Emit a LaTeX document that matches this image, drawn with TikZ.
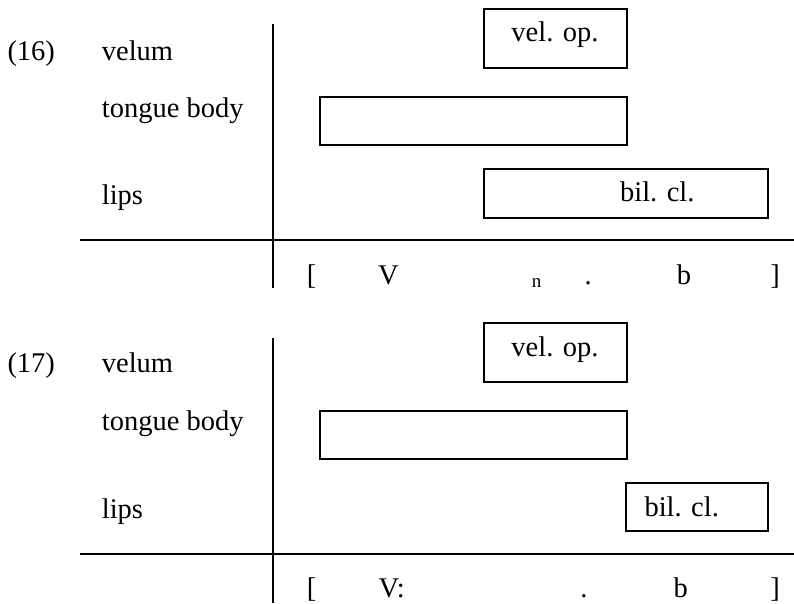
\documentclass[tikz,border=0pt]{standalone}
\usepackage{fontspec}
\setmainfont{Liberation Serif}
\begin{document}
\begin{tikzpicture}[x=1pt,y=-1pt,
  rule/.style={line width=2pt},
  bar/.style={draw, line width=2pt, rectangle, inner sep=0pt, anchor=north west},
  txt/.style={inner sep=0pt, font=\fontsize{28.5}{34}\selectfont},
  lbl/.style={txt, anchor=base west},
  ctr/.style={txt, anchor=base},
  small/.style={inner sep=0pt, anchor=base, font=\fontsize{19}{23}\selectfont}]
\useasboundingbox (0,0) rectangle (794,603);
% ---------- (16) ----------
\coordinate (vA1) at (272.7,24);
\coordinate (vA2) at (272.7,288);
\coordinate (hA1) at (80,240);
\coordinate (hA2) at (794,240);
\draw[rule] (vA1) -- (vA2);
\draw[rule] (hA1) -- (hA2);
\node[lbl] (numA) at (7.3,60) {(16)};
\node[lbl] (velA) at (101.7,60) {velum};
\node[lbl] (tonA) at (101.7,117) {tongue body};
\node[lbl] (lipA) at (101.7,204.5) {lips};
\node[bar, minimum width=142.4pt, minimum height=58.7pt] (bvA) at (483.3,8.3) {};
\node[bar, minimum width=306.4pt, minimum height=47.7pt] (btA) at (319.3,96.3) {};
\node[bar, minimum width=283.4pt, minimum height=48.4pt] (bbA) at (483.3,168.3) {};
\node[ctr] (tvA) at (555,41.7) {vel. op.};
\node[ctr] (tbA) at (657.3,201.7) {bil. cl.};
\node[ctr] (s1A) at (311.7,284) {[};
\node[ctr] (s2A) at (388.3,284) {V};
\node[small] (s3A) at (536.7,287.3) {n};
\node[ctr] (s4A) at (588.3,284) {.};
\node[ctr] (s5A) at (684,284) {b};
\node[ctr] (s6A) at (775,284) {]};
% ---------- (17) ----------
\coordinate (vB1) at (272.7,337.7);
\coordinate (vB2) at (272.7,603);
\coordinate (hB1) at (80,554.3);
\coordinate (hB2) at (794,554.3);
\draw[rule] (vB1) -- (vB2);
\draw[rule] (hB1) -- (hB2);
\node[lbl] (numB) at (7.3,372) {(17)};
\node[lbl] (velB) at (101.7,372) {velum};
\node[lbl] (tonB) at (101.7,430) {tongue body};
\node[lbl] (lipB) at (101.7,518.3) {lips};
\node[bar, minimum width=142.4pt, minimum height=58.7pt] (bvB) at (483.3,322) {};
\node[bar, minimum width=306.4pt, minimum height=48pt] (btB) at (319.3,410) {};
\node[bar, minimum width=141.7pt, minimum height=48pt] (bbB) at (625,482) {};
\node[ctr] (tvB) at (555,356.7) {vel. op.};
\node[ctr] (tbB) at (681.7,516.7) {bil. cl.};
\node[ctr] (s1B) at (311.7,597) {[};
\node[ctr] (s2B) at (391.7,597) {V:};
\node[ctr] (s4B) at (584,597) {.};
\node[ctr] (s5B) at (680.7,597) {b};
\node[ctr] (s6B) at (775,597) {]};
\end{tikzpicture}
\end{document}
